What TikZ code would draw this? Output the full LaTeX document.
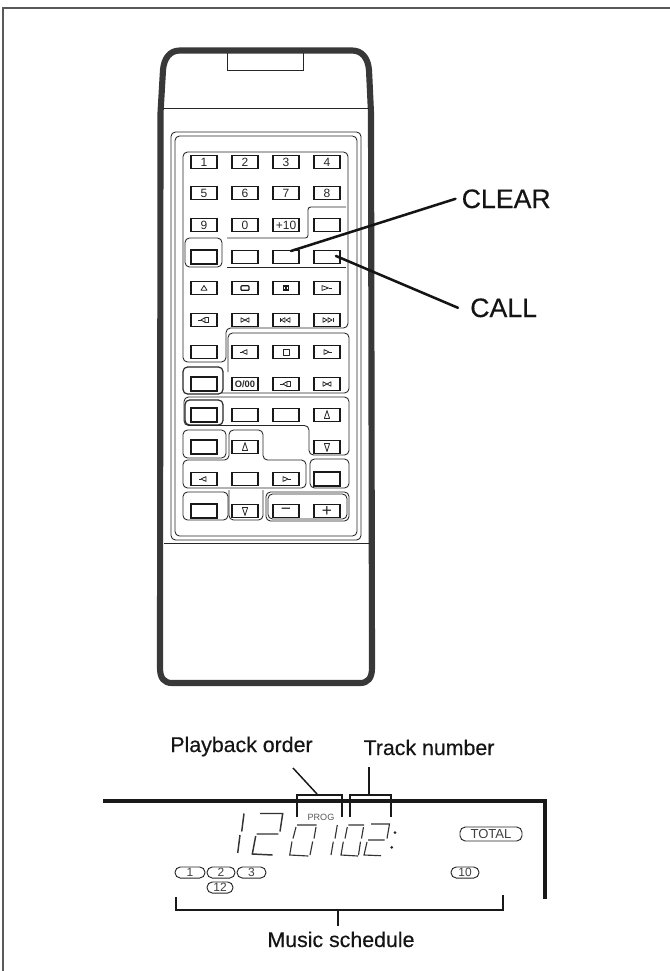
\documentclass[tikz,border=0pt]{standalone}
\usepackage{fontspec}
\setmainfont{Liberation Sans}
\newfontfamily\heavylab[FakeBold=0.35]{Liberation Sans}
\tikzset{
  btn/.style={draw=black!90,line width=1.2pt,minimum width=19.5pt,minimum height=9.8pt,inner sep=0pt,font=\fontsize{9}{9}\selectfont,text=black!85},
  btnheavy/.style={btn,line width=1.5pt},
  grp/.style={draw=black!85,line width=0.65pt,rounded corners=3.4pt},
  body/.style={draw=black!78,line width=4.6pt,line join=round},
  thinl/.style={draw=black!85,line width=0.65pt},
  lead/.style={draw=black!92,line width=1.9pt,line cap=round},
  brk/.style={draw=black!90,line width=1.1pt},
  rule/.style={draw=black!90,line width=2.4pt},
  seg/.style={draw=black!80,line width=0.85pt},
  pill/.style={draw=black!85,line width=0.7pt,rounded corners=4pt,inner sep=0pt,font=\fontsize{9}{9}\selectfont,text=black!75},
  lab/.style={anchor=base,inner sep=0pt,font=\fontsize{16}{16}\heavylab,text=black!92},
  labbig/.style={anchor=base west,font=\fontsize{20}{20}\heavylab,text=black!92,inner ysep=0pt},
  ic/.style={draw=black!85,line width=0.6pt,line join=round},
  icx/.style={draw=black!90,line width=0.9pt},
  ictriup/.pic={\draw[ic] (-3,2.2)--(0,-2.5)--(3,2.2)--cycle;},
  icrect/.pic={\draw[icx,rounded corners=0.6pt] (-4,-2.2) rectangle (4,2.2);},
  icpause/.pic={\draw[icx] (-2.8,-2) rectangle (-0.7,2) (0.7,-2) rectangle (2.8,2);},
  icplay/.pic={\draw[ic] (-5,-2.4)--(1.5,0)--(-5,2.4)--cycle; \draw[ic] (1.5,0)--(5,0);},
  icback/.pic={\draw[ic] (-3,0)--(-6,0); \draw[ic] (1,-2.4)--(-3,0)--(1,2.4)--cycle; \draw[ic] (1,-2.2)--(4,-2.2)--(4,2.2)--(1,2.2);},
  icfwd/.pic={\draw[ic] (-4,-2.2)--(0,0)--(-4,2.2)--cycle; \draw[ic] (0,0)--(4,-2.2)--(4,2.2)--cycle;},
  icrev/.pic={\draw[ic] (-6,-2.4)--(-6,2.4); \draw[ic] (-1,-2.3)--(-5,0)--(-1,2.3)--cycle; \draw[ic] (4,-2.3)--(0,0)--(4,2.3)--cycle;},
  icskip/.pic={\draw[ic] (6,-2.4)--(6,2.4); \draw[ic] (1,-2.3)--(5,0)--(1,2.3)--cycle; \draw[ic] (-4,-2.3)--(0,0)--(-4,2.3)--cycle;},
  icleft/.pic={\draw[ic] (2,-2.4)--(-3,0)--(2,2.4)--cycle; \draw[ic] (-3,0)--(-5,0);},
  icstop/.pic={\draw[ic] (-3,-3)--(3,-3)--(3,3)--(-3,3)--cycle;},
  icrgt/.pic={\draw[ic] (-3,-2.4)--(2,0)--(-3,2.4)--cycle; \draw[ic] (2,0)--(5,0);},
  icupa/.pic={\draw[ic] (-2.6,3.5)--(0,-4.5)--(2.6,3.5)--cycle;},
  icdna/.pic={\draw[ic] (-2.6,-3.5)--(0,4.5)--(2.6,-3.5)--cycle;},
}
\begin{document}
\begin{tikzpicture}[x=0.75pt,y=-0.75pt]
\useasboundingbox (0,0) rectangle (669,971);
% page frame
\draw[draw=black!65,line width=1.4pt] (670,8) -- (3,8) -- (3,971);
% remote body
\draw[body] (180,50.5) -- (352,50.5)
  .. controls (362,50.5) and (368,58) .. (369,70)
  -- (371,113) -- (372,668)
  .. controls (372,678) and (368,683) .. (360,683)
  -- (172,683) .. controls (164,683) and (160,678) .. (160,668)
  -- (160.5,113) -- (163,70)
  .. controls (164,58) and (170,50.5) .. (180,50.5) -- cycle;
\draw[thinl] (163,108) -- (369,108);
\draw[thinl] (227,53) -- (227,70) -- (303,70) -- (303,53);
\draw[thinl] (164,543) -- (370,543);
% panel
\draw[grp] (171,132) rectangle (361,540);
\draw[grp] (175,136) rectangle (357,536);
% group A
\draw[grp] (183,152) -- (348,152) -- (348,328) -- (226,328) -- (226,362) -- (183,362) -- cycle;
\draw[thinl,rounded corners=2pt] (346,207) -- (308,207) -- (308,238) -- (227,238);
\draw[grp] (185,238) rectangle (222,267);
\draw[thinl] (227,267) -- (346,267);
% group B
\draw[grp] (228,372) -- (228,333) -- (349,333) -- (349,393) -- (222,393);
\draw[grp,line width=0.9pt] (183,367) rectangle (223,394);
% group C
\draw[grp] (224,425.5) -- (309,425.5) -- (309,455) -- (349,455) -- (349,397) -- (184,397) -- (184,425.5) -- cycle;
\draw[grp,line width=0.9pt] (185,400) rectangle (223,425);
% lower groups
\draw[grp] (183,430) rectangle (226,458);
\draw[grp] (229,430) -- (263,430) -- (263,460) -- (306,460) -- (306,488) -- (183,488) -- (183,460) -- (229,460) -- cycle;
\draw[grp] (310,459) rectangle (349,488);
\draw[grp] (183,492) rectangle (228,520);
\draw[grp] (229,490) -- (229,520) -- (263,520) -- (263,490);
\draw[grp] (266,492) rectangle (349,521);
\draw[grp] (268,494) rectangle (347,519);
% buttons
\node[btn] (b11) at (204,162) {1};
\node[btn] (b12) at (245,162) {2};
\node[btn] (b13) at (286,162) {3};
\node[btn] (b14) at (327,162) {4};
\node[btn] (b21) at (204,193) {5};
\node[btn] (b22) at (245,193) {6};
\node[btn] (b23) at (286,193) {7};
\node[btn] (b24) at (327,193) {8};
\node[btn] (b31) at (204,225) {9};
\node[btn] (b32) at (245,225) {0};
\node[btn] (b33) at (286,225) {+10};
\node[btn] (b34) at (327,225) {};
\node[btnheavy] (b41) at (204,257) {};
\node[btn] (b42) at (245,257) {};
\node[btn] (b43) at (286,257) {};
\node[btn] (b44) at (327,257) {};
\node[btn] (b51) at (204,288) {};
\node[btn] (b52) at (245,288) {};
\node[btn] (b53) at (286,288) {};
\node[btn] (b54) at (327,288) {};
\node[btn] (b61) at (204,320) {};
\node[btn] (b62) at (245,320) {};
\node[btn] (b63) at (286,320) {};
\node[btn] (b64) at (327,320) {};
\node[btn] (b71) at (204,352) {};
\node[btn] (b72) at (245,352) {};
\node[btn] (b73) at (286,352) {};
\node[btn] (b74) at (327,352) {};
\node[btnheavy] (b81) at (204,384) {};
\node[btn,font=\fontsize{7}{7}\selectfont\bfseries] (b82) at (245,384) {O/00};
\node[btn] (b83) at (286,384) {};
\node[btn] (b84) at (327,384) {};
\node[btnheavy] (b91) at (204,415) {};
\node[btn] (b92) at (245,415) {};
\node[btn] (b93) at (286,415) {};
\node[btn] (b94) at (327,415) {};
\node[btnheavy] (b101) at (204,447) {};
\node[btn] (b102) at (245,447) {};
\node[btn] (b104) at (327,447) {};
\node[btn] (b111) at (204,479) {};
\node[btn] (b112) at (245,479) {};
\node[btn] (b113) at (286,479) {};
\node[btnheavy] (b114) at (327,479) {};
\node[btnheavy] (b121) at (204,511) {};
\node[btn] (b122) at (245,511) {};
\node[btn,font=\fontsize{13}{13}\selectfont] (b123) at (286,511) {−};
\node[btn,font=\fontsize{13}{13}\selectfont] (b124) at (327,511) {+};
% icons
\pic at (b51) {ictriup};
\pic at (b52) {icrect};
\pic at (b53) {icpause};
\pic at (b54) {icplay};
\pic at (b61) {icback};
\pic at (b62) {icfwd};
\pic at (b63) {icrev};
\pic at (b64) {icskip};
\pic at (b72) {icleft};
\pic at (b73) {icstop};
\pic at (b74) {icrgt};
\pic at (b83) {icback};
\pic at (b84) {icfwd};
\pic at (b94) {icupa};
\pic at (b102) {icupa};
\pic at (b104) {icdna};
\pic at (b111) {icleft};
\pic at (b113) {icrgt};
\pic at (b122) {icdna};
% labels with leaders
\node[labbig,inner xsep=4.5pt] (clearLabel) at (455.5,208) {CLEAR};
\node[labbig,inner xsep=9pt] (callLabel) at (458,317) {CALL};
\coordinate (clearTip) at (291,251);
\coordinate (callTip) at (336,256);
\draw[lead] (clearTip) -- (clearLabel.west);
\draw[lead] (callTip) -- (callLabel.west);
% display
\node[lab] (pbLabel) at (241.5,752) {Playback order};
\node[lab] (trkLabel) at (429,755) {Track number};
\draw[rule] (103,801) -- (545,801) -- (545,899);
\draw[brk] (297,817) -- (297,795) -- (342,795) -- (342,817);
\draw[brk] (350,817) -- (350,795) -- (391,795) -- (391,817);
\coordinate (pbFoot) at (317,794);
\coordinate (pbHead) at (293,768);
\coordinate (trkFoot) at (369,794);
\coordinate (trkHead) at (369,767);
\draw[brk] (pbHead) -- (pbFoot);
\draw[brk] (trkHead) -- (trkFoot);
\node[font=\fontsize{6.8}{7}\selectfont,text=black!65,inner sep=0pt] (prog) at (321,817.5) {PROG};
% seven-segment digits
\draw[seg,line width=1.1pt] (244,813.5) -- (241.7,831.5) (240,835) -- (237.7,853);
\draw[seg,line width=1.1pt] (260,813.5) -- (282.7,813.5) -- (280,831.5) (256.7,834) -- (278.3,834) (255.7,836) -- (252.3,854) -- (272.7,855);
\draw[seg] (297,825) -- (316.7,825) (296,827) -- (293,838.5) (292,841.5) -- (289.7,855) -- (308.3,856) (316,827) -- (314,838.5) (312.7,841.5) -- (310,855);
\draw[seg] (337.3,825) -- (335,838.5) (333.3,841.7) -- (331,855);
\draw[seg] (348.3,825) -- (364,825) (347.3,827) -- (345,838.5) (343.3,841.7) -- (341,855) -- (358,856) (363.5,827) -- (361.5,838.5) (360.5,841.7) -- (358.5,855);
\draw[seg] (371,824) -- (389.5,824) -- (387,838.5) (368,840) -- (384.5,840) (367,842) -- (364,855) -- (381,855.7);
\fill[black!85] (395,832.7) circle (1.5) (391.7,847.3) circle (1.5);
% pills
\node[pill,minimum width=46.5pt,minimum height=10.5pt,font=\fontsize{9.8}{10}\selectfont] (ptotal) at (491,834) {TOTAL};
\node[pill,minimum width=22.5pt,minimum height=8.3pt] (p1) at (190,872.5) {1};
\node[pill,minimum width=21pt,minimum height=8.3pt] (p2) at (221,872.5) {2};
\node[pill,minimum width=21.7pt,minimum height=8.3pt] (p3) at (251.5,872.5) {3};
\node[pill,minimum width=19.5pt,minimum height=8.3pt] (p12) at (220,887.5) {12};
\node[pill,minimum width=21pt,minimum height=8.3pt] (p10) at (465,872.5) {10};
% schedule bracket
\draw[brk,line width=1.3pt] (176,897) -- (176,910) -- (503,910) -- (503,895);
\coordinate (schedTop) at (338,910);
\node[lab] (schedLabel) at (341,947) {Music schedule};
\draw[brk,line width=1.3pt] (schedTop) -- (338,926);
\end{tikzpicture}
\end{document}
